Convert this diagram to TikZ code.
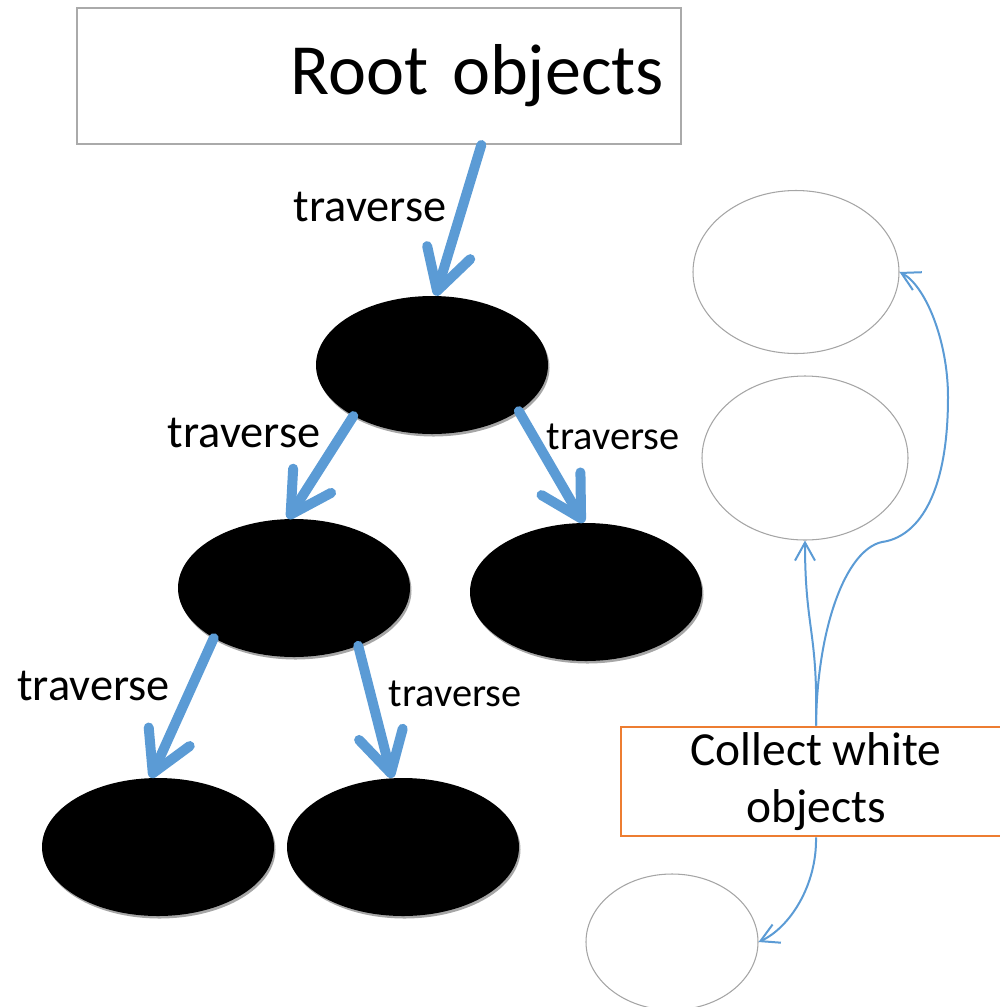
\documentclass[tikz,border=0pt]{standalone}
\usepackage{fontspec}
\setmainfont{Carlito}
\usetikzlibrary{arrows.meta,shapes.geometric,shadows}
\definecolor{lnb}{RGB}{91,155,213}
\definecolor{brd}{RGB}{170,170,170}
\definecolor{wbd}{RGB}{165,165,165}
\definecolor{org}{RGB}{237,125,49}
\tikzset{
  blackobj/.style={ellipse, fill=black, minimum width=4.64cm, minimum height=2.76cm,
    drop shadow={shadow xshift=0.03cm, shadow yshift=-0.05cm, fill=gray!70, opacity=1}},
  whiteobj/.style={ellipse, draw=wbd, line width=0.6pt, fill=white,
    minimum width=4.12cm, minimum height=3.26cm},
  trav/.style={lnb, line width=0.2cm, line cap=round,
    -{Straight Barb[length=0.8cm,width=0.9cm,round]}},
  trvlbl/.style={font=\fontsize{26.4}{30}\selectfont, inner sep=0pt},
  trvsml/.style={font=\fontsize{23}{27}\selectfont, inner sep=0pt},
  collarr/.style={lnb, line width=0.04cm, -{Straight Barb[length=0.36cm,width=0.4cm]}}
}

\begin{document}
\begin{tikzpicture}
\useasboundingbox (0,0) rectangle (20,-20.14);
\node[draw=brd, line width=0.04cm, minimum height=2.72cm, text width=11.4cm, inner xsep=0.34cm,
  align=right, font=\fontsize{41}{49}\selectfont] (root) at (7.58,-1.52) {Root objects};
\node[blackobj] (o1) at (8.64,-7.30) {};
\node[blackobj] (o2) at (5.88,-11.76) {};
\node[blackobj] (o3) at (11.72,-11.84) {};
\node[blackobj] (o4) at (3.16,-16.94) {};
\node[blackobj] (o5) at (8.06,-16.94) {};
\node[whiteobj] (w1) at (15.92,-5.44) {};
\node[whiteobj, minimum height=3.28cm] (w2) at (16.10,-9.16) {};
\node[whiteobj, minimum width=3.44cm, minimum height=2.72cm] (w3) at (13.44,-18.84) {};
\node[draw=org, line width=0.04cm, minimum width=7.8cm, minimum height=2.06cm, align=center,
  font=\fontsize{27}{32.4}\selectfont] (collect) at (16.32,-15.63) {Collect white\\objects};

\draw[trav] (root.-34.8) -- (o1.87);
\draw[trav] (o1.213) -- (o2.95);
\draw[trav] (o1.-28) -- (o3.92);
\draw[trav] (o2.212) -- (o4.96);
\draw[trav] (o2.-42) -- (o5.99);
\node[trvlbl] (t1) at (7.40,-4.14) {traverse};
\node[trvlbl] (t2) at (4.88,-8.66) {traverse};
\node[trvsml] (t3) at (12.26,-8.74) {traverse};
\node[trvlbl] (t4) at (1.87,-13.72) {traverse};
\node[trvsml] (t5) at (9.10,-13.88) {traverse};

\coordinate (knee) at (17.64,-10.84);
\coordinate (peak) at (18.96,-7.94);
\draw[collarr] (collect.north) .. controls (16.36,-12.6) and (16.10,-12.6) .. (w2.south);
\draw[collarr] (collect.north) .. controls (16.34,-12.6) and (16.9,-11.0) .. (knee)
  .. controls (18.3,-10.75) and (18.96,-10.0) .. (peak)
  .. controls (18.96,-6.8) and (18.5,-5.7) .. (w1.east);
\draw[collarr] (collect.south) .. controls (16.34,-17.7) and (15.8,-18.55) .. (w3.east);
\end{tikzpicture}
\end{document}
